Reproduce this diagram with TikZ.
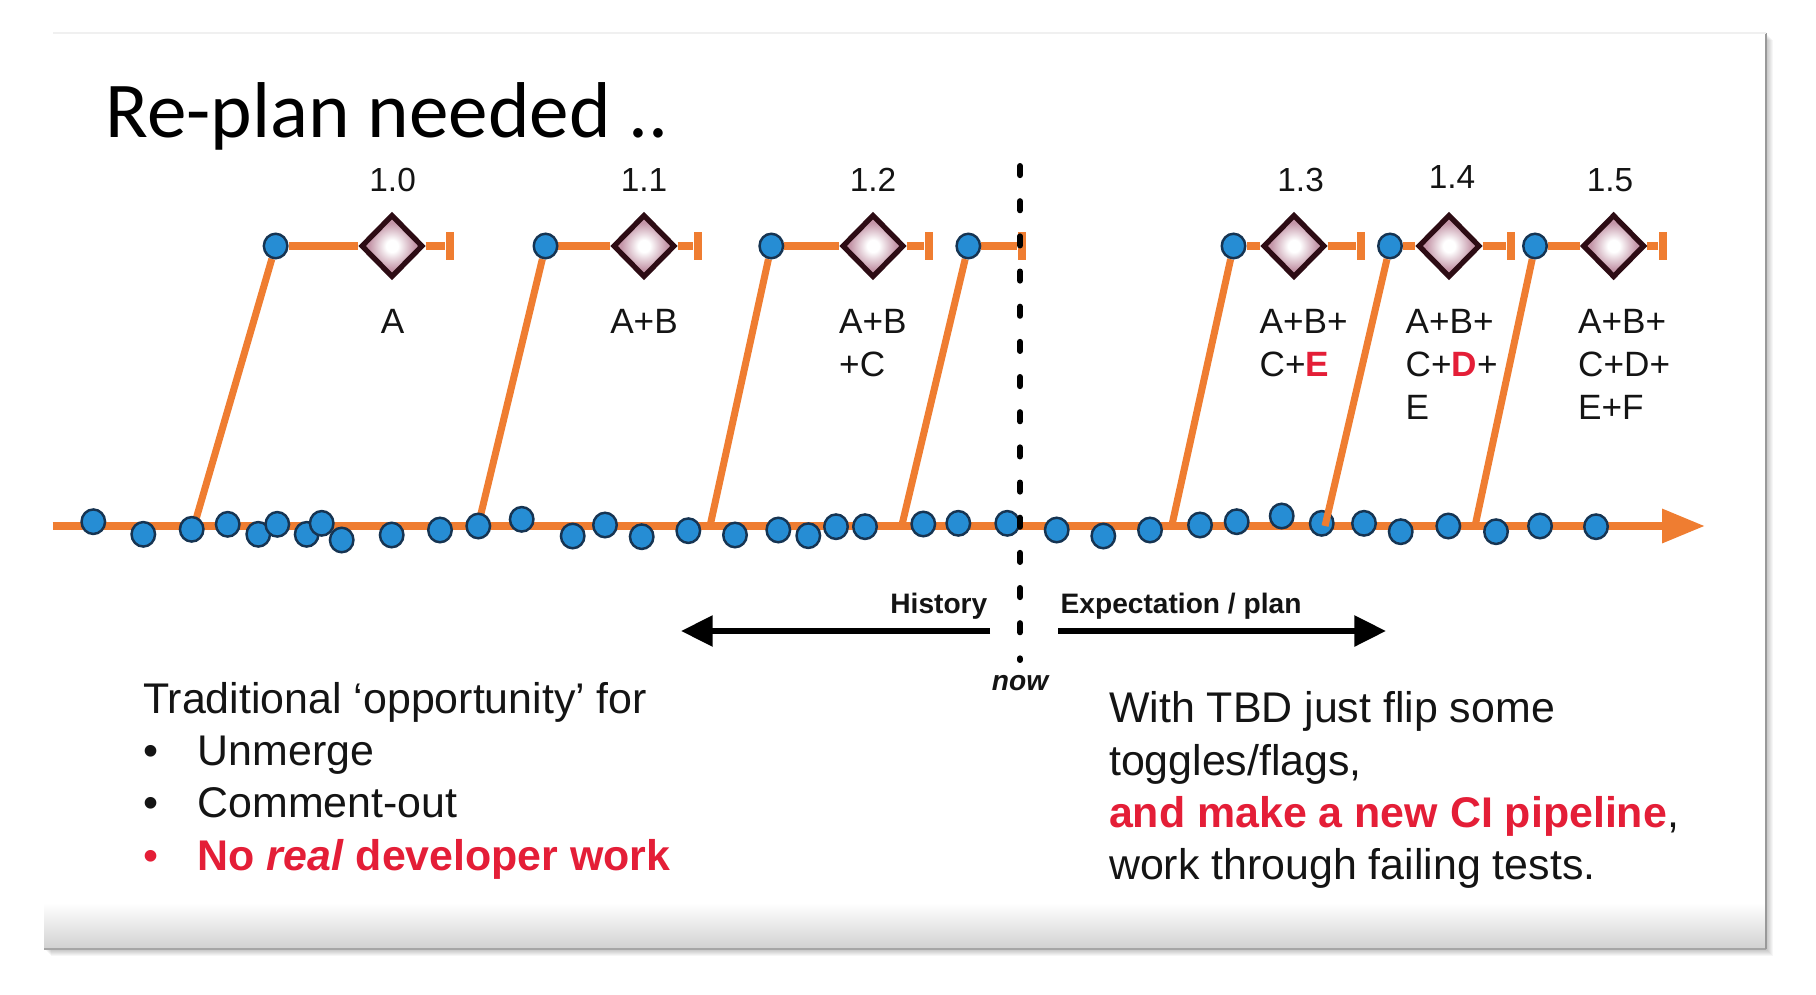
\documentclass[tikz,border=0pt]{standalone}
\usepackage{fontspec}
\setmainfont{Liberation Sans}
\newfontfamily\titlefont{Carlito}
\usetikzlibrary{shapes.geometric,arrows.meta}
\pgfdeclarelayer{slide}
\pgfdeclarelayer{wires}
\pgfsetlayers{slide,wires,main}

\definecolor{branchorange}{RGB}{239,125,49}
\definecolor{commitblue}{RGB}{38,141,212}
\definecolor{commitedge}{RGB}{22,52,82}
\definecolor{relpink}{RGB}{196,150,168}
\definecolor{reledge}{RGB}{45,12,20}
\definecolor{hotred}{RGB}{228,30,55}
\definecolor{inktext}{RGB}{20,20,20}

% release marker fill: white core fading to a dusty pink rim
\pgfdeclareradialshading{releaseglow}{\pgfpoint{0bp}{0bp}}{%
  color(0bp)=(white); color(5bp)=(white); color(19bp)=(relpink);
  color(25bp)=(relpink); color(50bp)=(relpink)}

\begin{document}
\begin{tikzpicture}[x=0.01cm,y=-0.01cm,
  trunk/.style={line width=2.3pt,draw=branchorange},
  branch/.style={line width=2pt,draw=branchorange},
  commit/.style={ellipse,draw=commitedge,fill=commitblue,line width=0.7pt,
    minimum width=0.235cm,minimum height=0.245cm,inner sep=0pt},
  release/.style={diamond,draw=reledge,line width=1.5pt,shading=releaseglow,
    minimum width=0.62cm,minimum height=0.63cm,inner sep=0pt},
  endbar/.style={fill=branchorange,minimum width=2.3pt,minimum height=0.27cm,inner sep=0pt},
  ver/.style={font=\fontsize{9.5}{11}\selectfont,anchor=base,inner sep=0pt,text=inktext},
  content/.style={font=\fontsize{10}{12.2}\selectfont,inner sep=0pt,text=inktext},
  tag/.style={font=\fontsize{8}{9.5}\selectfont\bfseries,inner sep=0pt,text=inktext},
  timearrow/.style={line width=1.7pt,draw=black,-{Triangle[length=9pt,width=8.5pt]}},
  nowline/.style={line width=1.7pt,draw=black,line cap=round,dash pattern=on 2.6pt off 7.4pt},
  prose/.style={font=\fontsize{12.2}{14.9}\selectfont,inner sep=0pt,anchor=base west,text=inktext}
]
\useasboundingbox (0,0) rectangle (1816,994);

% slide page with its soft shadow and footer band
\begin{pgfonlayer}{slide}
  \fill[white] (0,0) rectangle (1816,994);
  \foreach \d in {1,...,7}
    \fill[black,opacity=0.035] (44+\d,33+\d) rectangle (1766+\d,949+\d);
  \fill[white] (44,33) rectangle (1766,949);
  \shade[top color=white,bottom color=black!18] (44,903) rectangle (1766,949);
  \draw[black!35,line width=0.6pt] (44,949) -- (1766,949);
  \draw[black!40,line width=0.7pt] (1766,33) -- (1766,949);
  \draw[black!6,line width=0.5pt] (53,33) -- (1766,33);
\end{pgfonlayer}

% title
\node[anchor=base west,inner sep=0pt,font=\titlefont\fontsize{22.5}{27}\selectfont,text=black]
  (title) at (105,138) {Re-plan needed ..};

% trunk end points
\coordinate (tstart) at (52.7,526);
\coordinate (tend) at (1705,526);

% commits on the trunk
\foreach \x/\y [count=\i] in {
  93.3/521.7, 143.3/534.3, 191.7/529.3, 227.7/524.3, 258.3/534.3, 277.3/524.3,
  306.7/534.3, 341.7/540, 321.7/523.3, 391.7/535, 440/530, 478.3/526,
  521.7/519.3, 572.7/536, 605/525, 641.7/536.7, 688.3/530.7, 735/535,
  778.3/530, 808.3/535.7, 836/526.7, 865/526.7, 923.3/524, 958.3/523.3,
  1007.3/523.3, 1056.7/530, 1103.3/536, 1150/530, 1200/525, 1236.7/521.7,
  1281.7/516, 1321.7/523.3, 1364/523.3, 1400.7/531.7, 1448.3/526, 1496/531.7,
  1540/526, 1596/526.7}
  \node[commit] (c\i) at (\x,\y) {};

% release branches: fork point, branch head, end bar
\foreach \k/\bx/\tx/\ex in {1/194/275.6/450, 2/478/545.5/698, 3/710/771.3/929,
    4/901.7/968.3/1021.7, 5/1171.7/1233.5/1361, 6/1325/1390/1511, 7/1475/1535/1663}{
  \coordinate (b\k) at (\bx,526);
  \node[commit] (t\k) at (\tx,246) {};
  \node[endbar] (e\k) at (\ex,246) {};
}

% release markers
\foreach \k/\rx in {1/392, 2/644, 3/873, 5/1294, 6/1449, 7/1613.6}
  \node[release] (r\k) at (\rx,246) {};

% version numbers
\node[ver] (v1) at (392.6,192) {1.0};
\node[ver] (v2) at (644,192) {1.1};
\node[ver] (v3) at (873,192) {1.2};
\node[ver] (v5) at (1300.6,192) {1.3};
\node[ver] (v6) at (1452,189) {1.4};
\node[ver] (v7) at (1610,192) {1.5};

% release contents
\node[content,anchor=base] (k1) at (392.6,333.6) {A};
\node[content,anchor=base] (k2) at (644,333.6) {A+B};
\node[content,anchor=base west] (k3) at (838.5,333.6)
  {\begin{tabular}[t]{@{}l@{}}A+B\\+C\end{tabular}};
\node[content,anchor=base west] (k5) at (1259,333.6)
  {\begin{tabular}[t]{@{}l@{}}A+B+\\C+{\color{hotred}\bfseries E}\end{tabular}};
\node[content,anchor=base west] (k6) at (1405,333.6)
  {\begin{tabular}[t]{@{}l@{}}A+B+\\C+{\color{hotred}\bfseries D}+\\E\end{tabular}};
\node[content,anchor=base west] (k7) at (1577.5,333.6)
  {\begin{tabular}[t]{@{}l@{}}A+B+\\C+D+\\E+F\end{tabular}};

% history / plan arrows
\node[tag,anchor=base east] (hist) at (988,613.5) {History};
\node[tag,anchor=base west] (plan) at (1060,613.5) {Expectation / plan};
\coordinate (hstart) at (990,631);
\coordinate (hend) at (681,631);
\coordinate (pstart) at (1058,631);
\coordinate (pend) at (1386,631);
\coordinate (nowtop) at (1020,166);
\coordinate (nowbot) at (1020,660);
\node[tag,font=\fontsize{8}{9.5}\selectfont\bfseries\itshape,anchor=base] (nowlbl) at (1020,690) {now};

% connectors behind the nodes
\begin{pgfonlayer}{wires}
  \draw[trunk,-{Triangle[length=12.2pt,width=9.2pt]}] (tstart) -- (tend);
  \foreach \k in {1,2,3,4,5,7} \draw[branch] (b\k) -- (t\k);
  \foreach \k in {1,2,3,5,6,7} \draw[branch] (t\k) -- (r\k) -- (e\k);
  \draw[branch] (t4) -- (e4);
  \draw[timearrow] (hstart) -- (hend);
  \draw[timearrow] (pstart) -- (pend);
\end{pgfonlayer}

% this branch crosses in front of its commit
\draw[branch] (b6) -- (t6);

% the "now" marker
\draw[nowline] (nowtop) -- (nowbot);

% explanatory text
\node[prose] (trad) at (142.5,713) {\begin{tabular}[t]{@{}l@{}}
  Traditional ‘opportunity’ for\\
  \makebox[15.5pt][l]{•}Unmerge\\
  \makebox[15.5pt][l]{•}Comment-out\\
  \color{hotred}\makebox[15.5pt][l]{•}\bfseries No \textit{real} developer work
\end{tabular}};
\node[prose] (tbd) at (1108.4,722.7) {\begin{tabular}[t]{@{}l@{}}
  With TBD just flip some\\
  toggles/flags,\\
  {\color{hotred}\bfseries and make a new CI pipeline},\\
  work through failing tests.
\end{tabular}};
\end{tikzpicture}
\end{document}
